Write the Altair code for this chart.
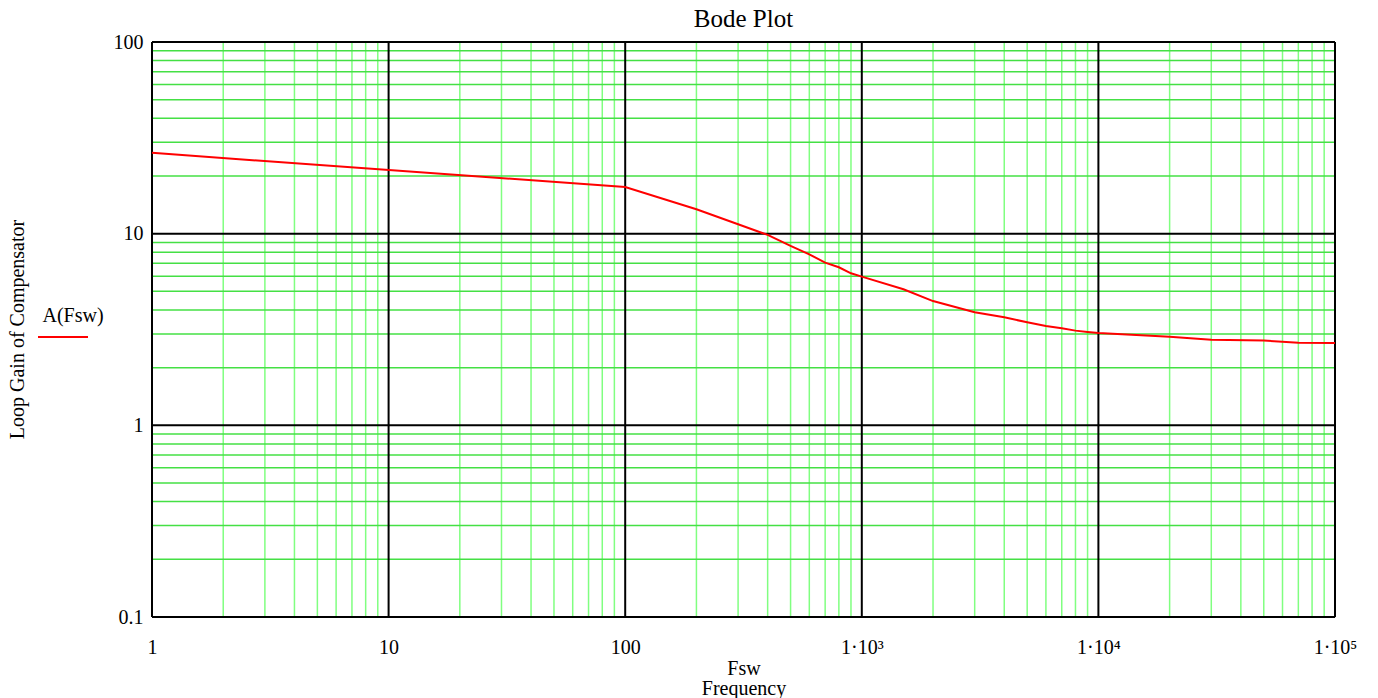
import altair as alt
import pandas as pd

# ---- data ----
freq = [1, 100, 200, 300, 400, 500, 600, 700, 800, 900, 1000, 1500, 2000, 3000, 4000,
        5000, 6000, 7000, 8000, 9000, 10000, 20000, 30000, 50000, 70000, 100000]
gain = [26.4, 17.5, 13.4, 11.2, 9.85, 8.63, 7.80, 7.06, 6.68, 6.21, 5.97, 5.13, 4.45, 3.89, 3.66,
        3.45, 3.30, 3.21, 3.12, 3.07, 3.03, 2.90, 2.80, 2.77, 2.70, 2.69]

x_major = [1, 10, 100, 1000, 10000, 100000]
x_major_labels = ["1", "10", "100", "1·10³", "1·10⁴", "1·10⁵"]
x_minor = [2, 3, 4, 5, 6, 7, 8, 9,
           20, 30, 40, 50, 60, 70, 80, 90,
           200, 300, 400, 500, 600, 700, 800, 900,
           2000, 3000, 4000, 5000, 6000, 7000, 8000, 9000,
           20000, 30000, 40000, 50000, 60000, 70000, 80000, 90000]
y_major = [0.1, 1, 10, 100]
y_major_labels = ["0.1", "1", "10", "100"]
y_minor = [0.2, 0.3, 0.4, 0.5, 0.6, 0.7, 0.8, 0.9,
           2, 3, 4, 5, 6, 7, 8, 9,
           20, 30, 40, 50, 60, 70, 80, 90]

FONT = "Liberation Serif"
FS = 20

xscale = alt.Scale(type="log", domain=[1, 100000], nice=False)
yscale = alt.Scale(type="log", domain=[0.1, 100], nice=False)


def label_expr(values, labels):
    expr = "''"
    for v, l in reversed(list(zip(values, labels))):
        expr = f"(abs(datum.value - {v}) < {v}*1e-6) ? '{l}' : ({expr})"
    return expr


xaxis = alt.Axis(values=x_major, labelExpr=label_expr(x_major, x_major_labels),
                 title=["Fsw", "Frequency"], grid=False, ticks=False, domain=False,
                 labelFont=FONT, labelFontSize=FS, labelColor="black", labelPadding=20,
                 labelFlush=False, labelOverlap=False,
                 titleFont=FONT, titleFontSize=FS, titleFontWeight="normal", titleColor="black",
                 titlePadding=1, titleLineHeight=20)
yaxis = alt.Axis(values=y_major, labelExpr=label_expr(y_major, y_major_labels),
                 title="Loop Gain of Compensator", grid=False, ticks=False, domain=False,
                 labelFont=FONT, labelFontSize=FS, labelColor="black", labelPadding=9,
                 labelFlush=False, labelOverlap=False,
                 titleFont=FONT, titleFontSize=FS, titleFontWeight="normal", titleColor="black",
                 titleX=-135, titleY=287, titleAngle=-90, titleAlign="center",
                 titleBaseline="middle")

X = lambda f: alt.X(f, scale=xscale, axis=xaxis)
Y = lambda f: alt.Y(f, scale=yscale, axis=yaxis)

df = pd.DataFrame({"Fsw": freq, "A": gain})

line = alt.Chart(df).mark_line(color="#FF0000", strokeWidth=2).encode(
    x=X("Fsw:Q"), y=Y("A:Q"))

vminor = alt.Chart(pd.DataFrame({"x": x_minor})).mark_rule(
    color="#80FF80", strokeWidth=1.5).encode(x=X("x:Q"))
hminor = alt.Chart(pd.DataFrame({"y": y_minor})).mark_rule(
    color="#44E044", strokeWidth=1.5).encode(y=Y("y:Q"))
vmajor = alt.Chart(pd.DataFrame({"x": x_major})).mark_rule(
    color="black", strokeWidth=2).encode(x=X("x:Q"))
hmajor = alt.Chart(pd.DataFrame({"y": y_major})).mark_rule(
    color="black", strokeWidth=2).encode(y=Y("y:Q"))

legend_text = alt.Chart(pd.DataFrame({"t": ["A(Fsw)"]})).mark_text(
    font=FONT, fontSize=FS, color="black", align="center", baseline="middle"
).encode(text="t:N", x=alt.value(-79), y=alt.value(274))
legend_line = alt.Chart(pd.DataFrame({"t": ["A(Fsw)"]})).mark_rule(
    color="#FF0000", strokeWidth=2
).encode(x=alt.value(-114), x2=alt.value(-64), y=alt.value(295))

chart = alt.layer(vminor, hminor, vmajor, hmajor, line, legend_text, legend_line).properties(
    width=1183, height=575,
    title=alt.TitleParams("Bode Plot", font=FONT, fontSize=25, fontWeight="normal",
                          color="black", anchor="middle", offset=0),
    autosize=alt.AutoSizeParams(type="none"),
    padding={"left": 152, "top": 42, "right": 43, "bottom": 81},
).configure_view(stroke="black", strokeWidth=2).configure(background="white")

chart.save("out.html", embed_options={"renderer": "svg", "actions": False})
